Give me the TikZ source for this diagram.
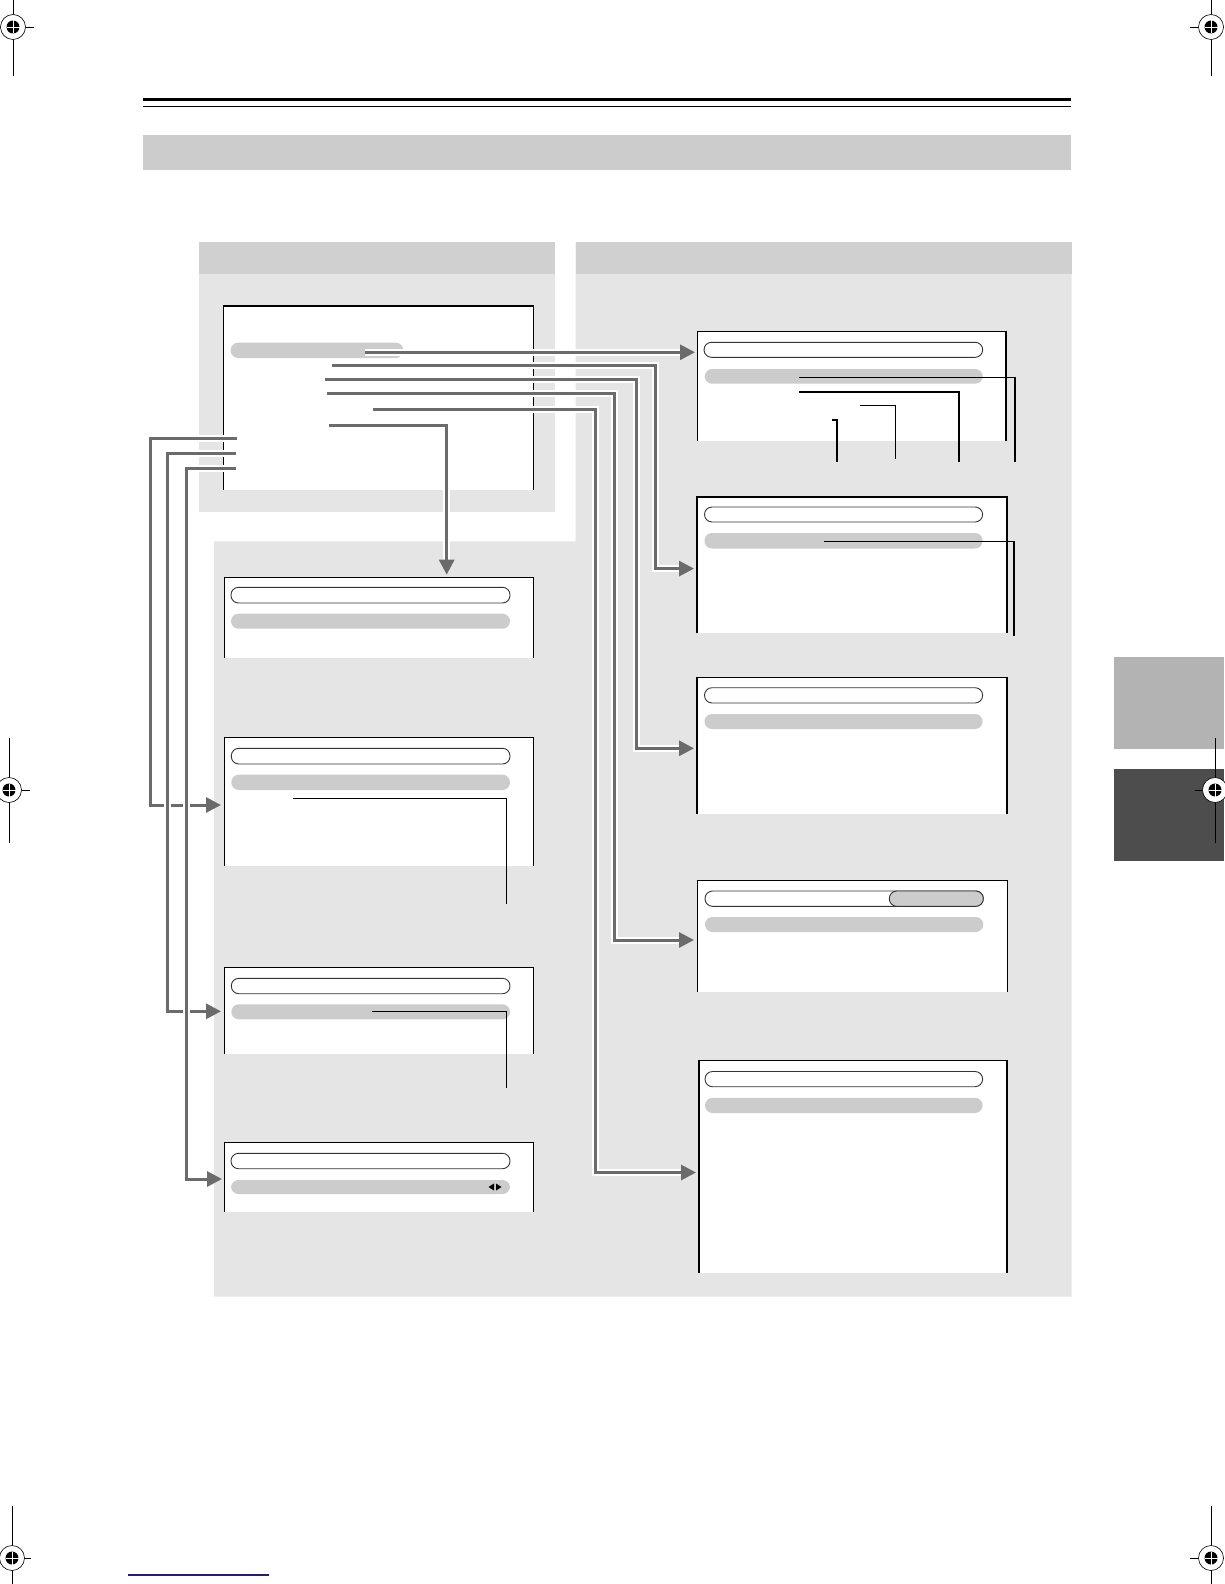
\documentclass[tikz,border=0pt]{standalone}
\usetikzlibrary{arrows.meta}
\definecolor{barg}{HTML}{CCCCCC}
\definecolor{hdrg}{HTML}{D0D0D0}
\definecolor{panelg}{HTML}{E5E5E5}
\definecolor{lineg}{HTML}{6B6B6B}
\definecolor{tabl}{HTML}{B3B3B3}
\definecolor{tabd}{HTML}{4D4D4D}
\definecolor{navyline}{HTML}{1F1F7A}
\definecolor{pillrim}{HTML}{333333}
\tikzset{
  boxline/.style={draw=black, line width=1.3pt},
  pillout/.style={draw=pillrim, line width=0.9pt, fill=white, rounded corners=7.5pt},
  pillgray/.style={fill=barg, rounded corners=7.5pt},
  halo/.style={draw=white, line width=7pt, shorten >=13pt},
  conn/.style={draw=lineg, line width=3pt, -{Triangle[length=15pt,width=15pt]}},
  callout/.style={draw=black, line width=1.3pt},
  regline/.style={draw=black, line width=0.8pt}
}
\newcommand\scrbox[5]{%
  \fill[white] (#2,#3) rectangle (#4,#5);
  \draw[boxline] (#2,#5) -- (#2,#3) -- (#4,#3) -- (#4,#5);
  \coordinate (#1) at (#2,#3);}
\newcommand\opill[4]{\path[pillout] (#1,#2) rectangle (#3,#4);}
\newcommand\gpill[4]{\path[pillgray] (#1,#2) rectangle (#3,#4);}
\newcommand\regmark[2]{%
  \fill[white] (#1,#2) circle (12.5pt);
  \draw[line width=0.6pt] (#1,#2) circle (12.5pt);
  \fill[black] (#1,#2) circle (6.5pt);
  \draw[white, line width=0.9pt] (#1-6.5,#2) -- (#1+6.5,#2) (#1,#2-6.5) -- (#1,#2+6.5);}
\begin{document}
\begin{tikzpicture}[x=1pt,y=-1pt]
\useasboundingbox (0,0) rectangle (1224,1584);
\fill[white] (0,0) rectangle (1224,1584);

% header rules and bar
\fill[black] (143,97.8) rectangle (1070.5,100.8);
\draw[black, line width=1.2pt] (143,106.3) -- (1070.5,106.3);
\fill[barg] (143,135) rectangle (1070.5,170);

% panels
\fill[panelg] (199,242.4) rectangle (555.4,512);
\fill[panelg] (575.6,242.4) -- (1071.5,242.4) -- (1071.5,1296.7) -- (214.1,1296.7) -- (214.1,541.3) -- (575.6,541.3) -- cycle;
\fill[hdrg] (199,242.4) rectangle (555.4,273.7);
\fill[hdrg] (575.6,242.4) rectangle (1071.5,273.7);

% side tabs
\fill[tabl] (1114,656.7) rectangle (1224,749.3);
\fill[tabd] (1114,769) rectangle (1224,860.7);

% bottom rule
\draw[navyline, line width=1.2pt] (128,1575) -- (268.6,1575);

% screen boxes
\scrbox{L0}{223.3}{305.7}{533.3}{490}
\draw[black, line width=1.6pt] (223.3,490) -- (223.3,305.7) -- (533.3,305.7) -- (533.3,490);
\gpill{230.7}{342.7}{403.3}{358}

\scrbox{L1}{224.3}{577.3}{533.7}{658.3}
\opill{231}{587.3}{510}{603}
\gpill{231}{613.7}{510}{628.7}

\scrbox{L2}{224.3}{737.2}{533.7}{865.7}
\opill{231.3}{748.3}{510}{764}
\gpill{231.3}{774.7}{510}{790}

\scrbox{L3}{224.3}{967.3}{533.7}{1054.3}
\opill{231.3}{978.3}{510}{993.7}
\gpill{231.3}{1004.3}{510}{1019.3}

\scrbox{L4}{224.3}{1142.3}{533.7}{1211.7}
\opill{231}{1153.3}{510}{1168.7}
\gpill{231}{1180}{510}{1194}
\fill[black] (488.5,1187) -- (494,1183.5) -- (494,1190.5) -- cycle;
\fill[black] (501.5,1187) -- (496,1183.5) -- (496,1190.5) -- cycle;

\scrbox{R1}{697.3}{331.3}{1006}{440.7}
\opill{704}{342.3}{982.7}{357.3}
\gpill{704.7}{369}{982.7}{383.7}

\scrbox{R2}{697}{497}{1007}{633}
\opill{704.5}{507}{982.6}{522}
\gpill{704.5}{533}{982.6}{548.5}

\scrbox{R3}{697}{677.6}{1007}{814}
\opill{704.5}{687.7}{982.6}{703}
\gpill{704.5}{714}{982.6}{729}

\scrbox{R4}{697.3}{880.7}{1007.3}{991.7}
\opill{705}{891}{983.3}{906.3}
\path[pillout, fill=barg] (889.3,891) rectangle (983.3,906.3);
\gpill{705}{917}{983.3}{932}

\scrbox{R5}{699}{1060.4}{1007}{1272.5}
\opill{705}{1071.5}{982.6}{1086.7}
\gpill{705}{1097.8}{982.6}{1113}

% callout lines
\draw[callout] (799.3,377.3) -| (1015,461.7);
\draw[callout] (799.3,392) -| (959,461.7);
\draw[callout] (860,405.3) -| (895.3,459.3);
\draw[callout, line width=2pt] (832.3,420) -| (837,461.7);
\draw[callout] (824,541.3) -| (1014,636);
\draw[callout] (292.7,798.3) -| (506.7,904.3);
\draw[callout] (371.7,1011.7) -| (506.7,1088);

% connector ports
\coordinate (s1) at (365,352.3);   \coordinate (t1) at (695,352.3);
\coordinate (s2) at (332.3,365.3); \coordinate (k2) at (655.7,568.6); \coordinate (t2) at (694,568.6);
\coordinate (s3) at (325,379.3);   \coordinate (k3) at (636,748.3);   \coordinate (t3) at (694,748.3);
\coordinate (s4) at (327,393.3);   \coordinate (k4) at (614.3,940);   \coordinate (t4) at (694,940);
\coordinate (s5) at (373,409);     \coordinate (k5) at (595.7,1172.5);\coordinate (t5) at (696,1172.5);
\coordinate (s6) at (329,425.7);   \coordinate (t6) at (446.7,574.7);
\coordinate (sa) at (236.7,438);   \coordinate (ka) at (150,805);     \coordinate (ta) at (221,805);
\coordinate (sb) at (236,453.3);   \coordinate (kb) at (167.7,1011.3);\coordinate (tb) at (221,1011.3);
\coordinate (sc) at (236,468.7);   \coordinate (kc) at (186.7,1179);  \coordinate (tc) at (222,1179);

% connectors (white casing, then grey line)
\draw[halo] (s1) -- (t1); \draw[conn] (s1) -- (t1);
\draw[halo] (s2) -| (k2) -- (t2); \draw[conn] (s2) -| (k2) -- (t2);
\draw[halo] (s3) -| (k3) -- (t3); \draw[conn] (s3) -| (k3) -- (t3);
\draw[halo] (s4) -| (k4) -- (t4); \draw[conn] (s4) -| (k4) -- (t4);
\draw[halo] (s5) -| (k5) -- (t5); \draw[conn] (s5) -| (k5) -- (t5);
\draw[halo] (s6) -| (t6); \draw[conn] (s6) -| (t6);
\draw[halo] (sa) -| (ka) -- (ta); \draw[conn] (sa) -| (ka) -- (ta);
\draw[halo] (sb) -| (kb) -- (tb); \draw[conn] (sb) -| (kb) -- (tb);
\draw[halo] (sc) -| (kc) -- (tc); \draw[conn] (sc) -| (kc) -- (tc);

% registration marks
\draw[regline] (13,0) -- (13,76) (0,27) -- (34,27);
\regmark{13}{27}
\draw[regline] (1211,0) -- (1211,76) (1190,27) -- (1224,27);
\regmark{1211}{27}
\draw[regline] (9,738) -- (9,843) (0,790) -- (30,790);
\regmark{9}{790}
\draw[regline] (1215,738) -- (1215,843) (1195,790) -- (1224,790);
\regmark{1215}{790}
\draw[regline] (12,1506) -- (12,1584) (0,1558) -- (31,1558);
\regmark{12}{1558}
\draw[regline] (1211,1506) -- (1211,1584) (1190,1558) -- (1224,1558);
\regmark{1211}{1558}
\end{tikzpicture}
\end{document}
